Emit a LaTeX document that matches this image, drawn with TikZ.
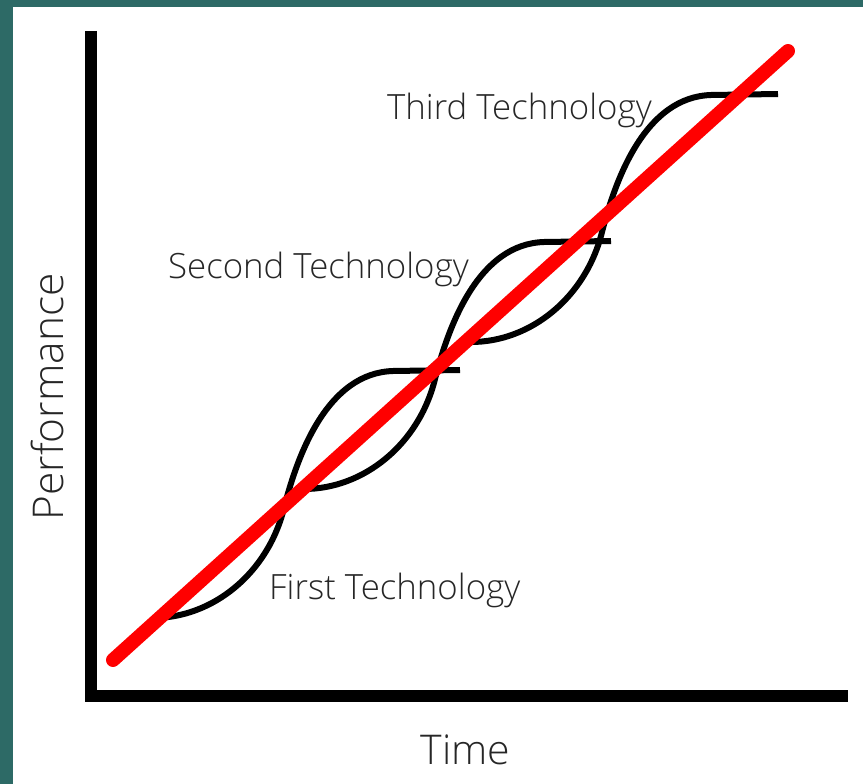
\documentclass[tikz,border=0pt]{standalone}
\usepackage{fontspec}
\setmainfont{Open Sans Light}
\usetikzlibrary{positioning}
\definecolor{slidebg}{RGB}{45,106,102}
\definecolor{trendred}{RGB}{255,0,0}
\tikzset{
  axisline/.style={line width=12pt, line join=miter, line cap=butt},
  scurve/.style={line width=6pt},
  trendline/.style={trendred, line width=14pt, line cap=round},
  techlabel/.style={font=\fontsize{34.8}{38}\selectfont, text=black!85, inner sep=0pt, anchor=base west},
  axislabel/.style={font=\fontsize{41}{44}\selectfont, text=black!85, inner sep=0pt, anchor=base}
}

\begin{document}
\begin{tikzpicture}[x=1pt,y=-1pt]
  \useasboundingbox (0,0) rectangle (863,784);
  % slide frame
  \fill[slidebg] (0,0) rectangle (863,7);
  \fill[slidebg] (0,0) rectangle (13,784);

  % axes
  \coordinate (ytop) at (91,31);
  \coordinate (origin) at (91,696);
  \coordinate (xend) at (848,696);
  \draw[axisline] (ytop) -- (origin) -- (xend);
  \node[axislabel] (time) at (465.5,764) {Time};
  \node[axislabel, rotate=90, font=\fontsize{42.4}{46}\selectfont] (perf) at (63,397) {Performance};

  % s-curves
  \foreach \x/\y [count=\i] in {153/618,304/489,471/342}{
    \begin{scope}[shift={(\x,\y)}]
      \coordinate (start\i) at (0,0);
      \coordinate (mid\i) at (131,-110);
      \coordinate (top\i) at (240,-247);
      \coordinate (end\i) at (307,-248);
      \draw[scurve] (start\i) .. controls (60,0) and (115,-45) .. (mid\i)
        .. controls (145,-165) and (175,-245) .. (top\i) -- (end\i);
    \end{scope}
  }

  % labels
  \foreach \x/\y/\name [count=\i] in {269/599/First,168/278/Second,387/119/Third}{
    \node[techlabel] (tech\i) at (\x,\y) {\name\ Technology};
  }

  % trend
  \coordinate (trendlow) at (113,660);
  \coordinate (trendhigh) at (788,51);
  \draw[trendline] (trendlow) -- (trendhigh);
\end{tikzpicture}
\end{document}
